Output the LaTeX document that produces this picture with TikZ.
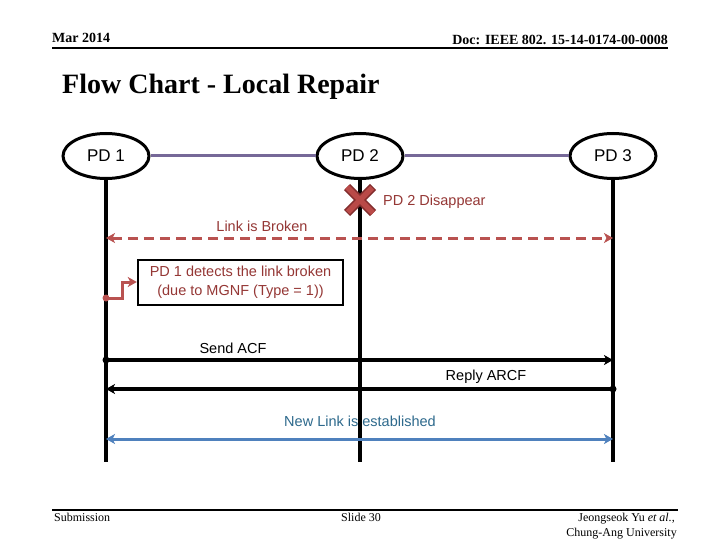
\documentclass[tikz,border=0pt]{standalone}
\usepackage{fontspec}
\setmainfont{Liberation Serif}
\newfontfamily\arial{Liberation Sans}
\usetikzlibrary{arrows.meta,shapes.geometric}
\definecolor{dred}{HTML}{953735}
\definecolor{mred}{RGB}{185,82,80}
\definecolor{xfill}{RGB}{185,74,72}
\definecolor{xline}{RGB}{130,45,45}
\definecolor{lblue}{HTML}{4F81BD}
\definecolor{tblue}{RGB}{45,105,140}
\definecolor{purp}{RGB}{118,104,152}
\tikzset{
  pd/.style={ellipse,draw=black,line width=3pt,minimum width=86pt,minimum height=45pt,inner sep=0pt,font=\arial\fontsize{17}{20}\selectfont},
  life/.style={line width=3.2pt,black},
  msg/.style={line width=3.2pt,black},
  tip/.style={-{Stealth[length=9pt,width=10pt,inset=2.5pt]}},
  dtip/.style={{Stealth[length=9pt,width=10pt,inset=2.5pt]}-{Stealth[length=9pt,width=10pt,inset=2.5pt]}},
  lbl/.style={font=\arial\fontsize{14.5}{17}\selectfont,inner sep=0pt},
  hdr/.style={font=\bfseries\fontsize{14}{16}\selectfont,inner sep=0pt},
  ftr/.style={font=\fontsize{12}{14}\selectfont,inner sep=0pt},
  dot/.style={circle,fill,inner sep=0pt,minimum size=7pt}
}
\begin{document}
\begin{tikzpicture}[x=1pt,y=-1pt]
\useasboundingbox (0,0) rectangle (720,540);
\fill[white] (0,0) rectangle (720,540);
% header
\node[hdr,anchor=base west] (date) at (52,43) {Mar 2014};
\node[hdr,anchor=base east] (doc) at (668,45) {Doc: IEEE 802. 15-14-0174-00-0008};
\coordinate (hl) at (52,48); \coordinate (hr) at (668,48);
\draw[line width=2.6pt] (hl) -- (hr);
\node[anchor=base west,inner sep=0pt,font=\bfseries\fontsize{28}{32}\selectfont] (title) at (62,94) {Flow Chart - Local Repair};
% footer
\coordinate (fl) at (52,510); \coordinate (fr) at (678,510);
\draw[line width=2.2pt] (fl) -- (fr);
\node[ftr,anchor=base west] (sub) at (54,521) {Submission};
\node[ftr,anchor=base] (slide) at (361,521) {Slide 30};
\node[ftr,anchor=base east] (auth) at (675,521) {Jeongseok Yu \textit{et al.},};
\node[ftr,anchor=base east] (univ) at (677,536) {Chung-Ang University};
% entities
\node[pd] (pd1) at (106,156) {PD 1};
\node[pd] (pd2) at (360,156) {PD 2};
\node[pd] (pd3) at (613,156) {PD 3};
\draw[purp,line width=3pt] (pd1) -- (pd2);
\draw[purp,line width=3pt] (pd2) -- (pd3);
\coordinate (e1) at (106,462); \coordinate (e2) at (360,462); \coordinate (e3) at (613,462);
\draw[life] (pd1.south) -- (e1);
\draw[life] (pd2.south) -- (e2);
\draw[life] (pd3.south) -- (e3);
% X mark
\coordinate (xa) at (347,187); \coordinate (xb) at (373,213);
\coordinate (xc) at (373,187); \coordinate (xd) at (347,213);
\draw[xline,line width=8.5pt] (xa) -- (xb) (xc) -- (xd);
\draw[xfill,line width=5.5pt,shorten <=1.2pt,shorten >=1.2pt] (xa) -- (xb) (xc) -- (xd);
\node[lbl,text=dred,anchor=west] (dis) at (383,202) {PD 2 Disappear};
% link broken
\node[lbl,text=dred] (lb) at (262,226) {Link is Broken};
\coordinate (b1) at (106,238); \coordinate (b3) at (613,238);
\draw[mred,line width=3pt,dash pattern=on 10pt off 6pt,dtip] (b1) -- (b3);
% detect box
\node[draw=black,line width=2.4pt,minimum width=205pt,minimum height=45pt,inner sep=0pt,align=center,text=dred,font=\arial\fontsize{14.5}{19}\selectfont] (det) at (240.5,282.5) {PD 1 detects the link broken\\(due to MGNF (Type = 1))};
\coordinate (d0) at (106,298);
\node[dot,mred] (d0dot) at (d0) {};
\draw[mred,line width=3pt,tip] (d0) -| (122,282) -- (det.west |- 0,282);
% send ACF
\node[lbl] (sacf) at (233,348) {Send ACF};
\coordinate (s1) at (106,360); \coordinate (s3) at (613,360);
\node[dot] (s1dot) at (s1) {};
\draw[msg,tip] (s1) -- (s3);
% reply ARCF
\node[lbl] (rarcf) at (486,377) {Reply ARCF};
\coordinate (r1) at (106,389); \coordinate (r3) at (613,389);
\node[dot] (r3dot) at (r3) {};
\draw[msg,tip] (r3) -- (r1);
% new link
\node[lbl,text=tblue] (nl) at (360,421) {New Link is established};
\coordinate (n1) at (106,439); \coordinate (n3) at (613,439);
\draw[lblue,line width=3pt,dtip] (n1) -- (n3);
\end{tikzpicture}
\end{document}
